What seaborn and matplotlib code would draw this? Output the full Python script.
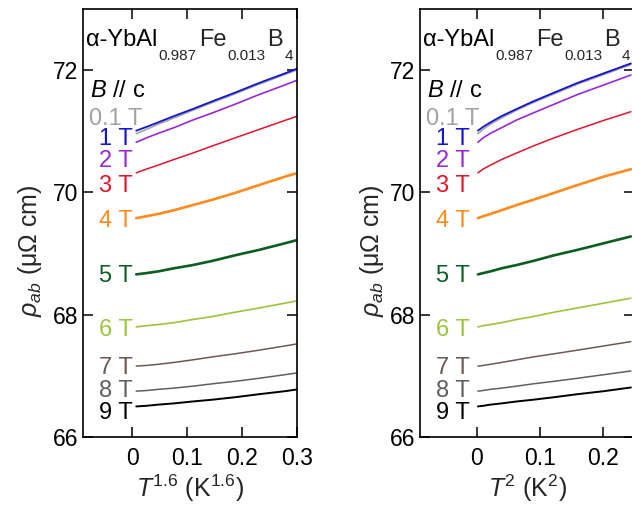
import numpy as np
import pandas as pd
import matplotlib
matplotlib.use("Agg")
import matplotlib.pyplot as plt
import matplotlib.transforms as mtransforms
import seaborn as sns

# ---- data: in-plane resistivity of alpha-YbAl(0.987)Fe(0.013)B4, B // c ----
temperature = [0.045, 0.10, 0.15, 0.20, 0.25, 0.30, 0.35, 0.40, 0.45, 0.495]  # K
fields = ["0.1 T", "1 T", "2 T", "3 T", "4 T", "5 T", "6 T", "7 T", "8 T", "9 T"]

rho_0p1T = [70.96, 71.03, 71.12, 71.22, 71.34, 71.47, 71.61, 71.77, 71.93, 72.09]
rho_1T = [71.01, 71.07, 71.15, 71.25, 71.36, 71.49, 71.63, 71.79, 71.95, 72.11]
rho_2T = [70.82, 70.89, 70.97, 71.06, 71.18, 71.30, 71.44, 71.60, 71.76, 71.92]
rho_3T = [70.32, 70.38, 70.45, 70.54, 70.64, 70.76, 70.89, 71.03, 71.18, 71.32]
rho_4T = [69.58, 69.61, 69.65, 69.71, 69.79, 69.88, 69.99, 70.12, 70.26, 70.38]
rho_5T = [68.66, 68.68, 68.71, 68.76, 68.81, 68.88, 68.97, 69.06, 69.17, 69.28]
rho_6T = [67.80, 67.82, 67.84, 67.87, 67.92, 67.97, 68.04, 68.11, 68.19, 68.27]
rho_7T = [67.16, 67.17, 67.19, 67.22, 67.26, 67.31, 67.36, 67.42, 67.49, 67.56]
rho_8T = [66.75, 66.76, 66.78, 66.80, 66.83, 66.87, 66.91, 66.96, 67.02, 67.08]
rho_9T = [66.50, 66.51, 66.53, 66.55, 66.58, 66.61, 66.65, 66.70, 66.75, 66.81]

rho_by_field = [rho_0p1T, rho_1T, rho_2T, rho_3T, rho_4T,
                rho_5T, rho_6T, rho_7T, rho_8T, rho_9T]

field_colors = ["#a3a3a3", "#1414d2", "#9a26d8", "#e3142c", "#ff8a1e",
                "#0b5e22", "#9cc43c", "#6e5853", "#5f5f5f", "#000000"]
line_widths = [1.2, 1.3, 1.2, 1.1, 1.9, 1.9, 1.2, 1.1, 1.1, 1.4]

# baselines of the field labels (data units)
label_rows = [71.11, 70.77, 70.42, 70.00, 69.44, 68.54, 67.65, 67.03, 66.66, 66.30]

x_ticks_left = [0, 0.1, 0.2, 0.3]
x_ticks_right = [0, 0.1, 0.2]
y_ticks = [66, 68, 70, 72]

# ---- long-form table ----
records = []
for name, rho in zip(fields, rho_by_field):
    for t, r in zip(temperature, rho):
        records.append({"field": name, "T": t, "rho": r})
df = pd.DataFrame(records)
df["T16"] = df["T"] ** 1.6
df["T2"] = df["T"] ** 2

# ---- style ----
sns.set_theme(style="ticks")
plt.rcParams["font.family"] = ["Liberation Sans", "DejaVu Sans"]
plt.rcParams["mathtext.fontset"] = "custom"
plt.rcParams["mathtext.rm"] = "Liberation Sans"
plt.rcParams["mathtext.it"] = "Liberation Sans:italic"
plt.rcParams["mathtext.bf"] = "Liberation Sans:bold"

W, H = 632, 509
fig = plt.figure(figsize=(W / 100, H / 100), dpi=100)
ax_l = fig.add_axes([83 / W, 72 / H, 214 / W, 428 / H])
ax_r = fig.add_axes([420 / W, 72 / H, 214 / W, 428 / H])


def draw_formula(ax):
    tr = mtransforms.blended_transform_factory(ax.transAxes, ax.transData)
    big, small = 17, 11
    drop = -6.5
    t1 = ax.text(0.014, 72.40, "α-YbAl", transform=tr, fontsize=big,
                 ha="left", va="baseline", color="black")
    s1 = ax.annotate("0.987", xy=(1, 0), xycoords=t1, xytext=(1, drop),
                     textcoords="offset points", fontsize=small,
                     ha="left", va="baseline")
    t2 = ax.annotate("Fe", xy=(1, 0), xycoords=(s1, t1), xytext=(1.5, 0),
                     textcoords="offset points", fontsize=big,
                     ha="left", va="bottom")
    s2 = ax.annotate("0.013", xy=(1, 0), xycoords=t2, xytext=(0.5, drop),
                     textcoords="offset points", fontsize=small,
                     ha="left", va="baseline")
    t3 = ax.annotate("B", xy=(1, 0), xycoords=(s2, t2), xytext=(1.5, 0),
                     textcoords="offset points", fontsize=big,
                     ha="left", va="bottom")
    ax.annotate("4", xy=(1, 0), xycoords=t3, xytext=(1, drop),
                textcoords="offset points", fontsize=small,
                ha="left", va="baseline")


panels = [
    (ax_l, "T16", (-0.09, 0.30), x_ticks_left, r"$T^{1.6}$ (K$^{1.6}$)"),
    (ax_r, "T2", (-0.09, 0.25), x_ticks_right, r"$T^{2}$ (K$^{2}$)"),
]

for ax, xcol, xlim, xticks, xlabel in panels:
    sns.lineplot(data=df, x=xcol, y="rho", hue="field", hue_order=fields,
                 palette=field_colors, estimator=None, sort=True,
                 linewidth=1.5, legend=False, ax=ax)
    for line, lw in zip(ax.lines, line_widths):
        line.set_linewidth(lw)
    ax.set_xlim(*xlim)
    ax.set_ylim(66, 73)
    ax.set_xticks(xticks)
    ax.set_xticklabels([f"{v:g}" for v in xticks])
    ax.set_yticks(y_ticks)
    ax.tick_params(axis="both", which="both", direction="in", length=7,
                   width=1.1, top=True, right=True, labelsize=16.5,
                   colors="black")
    ax.tick_params(axis="x", pad=7)
    ax.tick_params(axis="y", pad=3.5)
    for sp in ax.spines.values():
        sp.set_linewidth(1.2)
        sp.set_color("black")
    ax.set_xlabel(xlabel, fontsize=18, labelpad=2)
    ax.set_ylabel("")

    tr = mtransforms.blended_transform_factory(ax.transAxes, ax.transData)
    for name, color, yl in zip(fields, field_colors, label_rows):
        ax.text(0.152, yl, name, transform=tr, color=color, fontsize=17,
                ha="center", va="baseline")
    ax.text(0.033, 71.56, r"$B$ // c", transform=tr, fontsize=17,
            ha="left", va="baseline", color="black")
    draw_formula(ax)

ylab = r"$\rho_{ab}$ (μΩ cm)"
fig.text(30 / W, 0.507, ylab, rotation=90, fontsize=18,
         ha="center", va="center")
fig.text(372 / W, 0.507, ylab, rotation=90, fontsize=18,
         ha="center", va="center")

fig.savefig("out.png", dpi=100)
